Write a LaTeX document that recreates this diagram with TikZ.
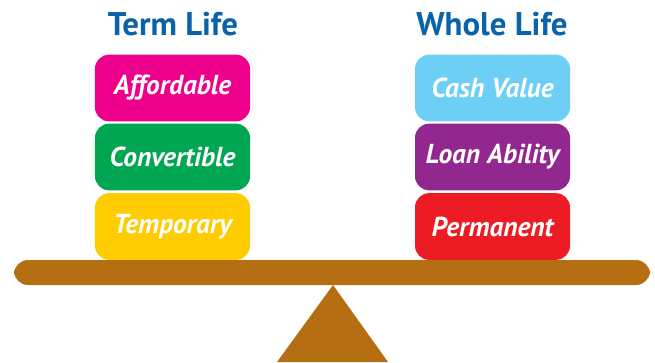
\documentclass[tikz,border=0pt]{standalone}
\usepackage{fontspec}
\setmainfont{PT Sans}
\usetikzlibrary{positioning}
\definecolor{titleblue}{HTML}{0A62A9}
\definecolor{pinkbox}{HTML}{EC008C}
\definecolor{greenbox}{HTML}{00A651}
\definecolor{yellowbox}{HTML}{FFCC00}
\definecolor{cyanbox}{HTML}{6DCFF6}
\definecolor{purplebox}{HTML}{92278F}
\definecolor{redbox}{HTML}{ED1C24}
\definecolor{beambrown}{HTML}{B56E12}

\begin{document}
\begin{tikzpicture}[x=0.03cm,y=-0.03cm]
			\useasboundingbox (0,0) rectangle (655,362);
			\begin{scope}[every node/.style={text=titleblue,font=\fontsize{28}{32}\selectfont\bfseries}]
	    		\node (term) at (173,24) {Term Life};
	    		\node (whole) at (492,24) {Whole Life};
			\end{scope}
			\begin{scope}[every node/.style={rounded corners=12,minimum width=4.65cm,minimum height=2.0cm,text=white,font=\fontsize{23.4}{27}\selectfont\bfseries\itshape}]
	    		\node [fill=pinkbox] (afford) at (172.5,88) {Affordable};
	    		\node [fill=greenbox] (convert) at (172.5,157) {Convertible};
	    		\node [fill=yellowbox] (temp) at (172.5,226.5) {Temporary};
	    		\node [fill=cyanbox] (cash) at (492.5,88) {Cash Value};
	    		\node [fill=purplebox] (loan) at (492.5,157) {Loan Ability};
	    		\node [fill=redbox] (perm) at (492.5,226.5) {Permanent};
			\end{scope}
			\begin{scope}[beambrown]
	    		\fill [rounded corners=12] (14,260) rectangle (650,285);
	    		\fill (333,285) -- (388,362) -- (277,362) -- cycle;
			\end{scope}
		\end{tikzpicture}
\end{document}
